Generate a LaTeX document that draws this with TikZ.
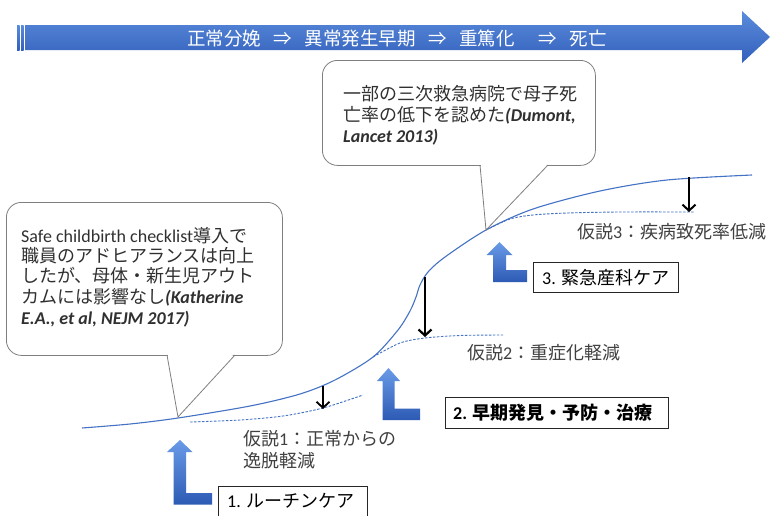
\documentclass[tikz,border=0pt]{standalone}
\usepackage{fontspec}
\setmainfont{Noto Sans CJK JP}
\newfontfamily\lat{Carlito}
\usetikzlibrary{arrows.meta}
\definecolor{curveblue}{HTML}{4472C4}
\definecolor{arrtop}{HTML}{5A8BDB}
\definecolor{arrbot}{HTML}{3360BC}
\definecolor{ltop}{HTML}{6A9BE8}
\definecolor{lbot}{HTML}{2D5AB4}
\definecolor{callgray}{HTML}{7F7F7F}
\definecolor{calltext}{HTML}{303030}
\definecolor{hyptext}{HTML}{404040}
\tikzset{
  curve/.style={draw=curveblue, line width=1.1pt},
  dcurve/.style={draw=curveblue, line width=0.9pt, dash pattern=on 2.5pt off 1.5pt},
  downarr/.style={line width=2pt, -{Straight Barb[length=6pt,width=13pt]}},
  callbox/.style={draw=callgray, fill=white, rounded corners=15pt, line width=0.8pt, inner sep=0pt},
  ptr/.style={draw=callgray, line width=0.8pt},
  labelbox/.style={draw=black!85, fill=white, line width=0.9pt, inner sep=0pt},
  upL/.style={top color=ltop, bottom color=lbot, draw=none},
  ctext/.style={anchor=base west, text=calltext, inner sep=0pt, font=\fontsize{18}{21}\selectfont},
  htext/.style={anchor=base west, text=hyptext, inner sep=0pt, font=\fontsize{18}{21}\selectfont},
  btext/.style={anchor=base west, text=black, inner sep=0pt, font=\fontsize{18}{21}\selectfont},
}
\newcommand{\cit}[1]{{\lat\bfseries\itshape #1}}
\begin{document}
\begin{tikzpicture}[x=1pt,y=-1pt]
\useasboundingbox (0,0) rectangle (777,515);
\fill[white] (0,0) rectangle (777,515);

% top process arrow
\shade[top color=arrtop, bottom color=arrbot] (25,25) -- (742,25) -- (742,11) -- (770,37) -- (742,63) -- (742,50) -- (25,50) -- cycle;
\shade[top color=arrtop, bottom color=arrbot] (17,25) rectangle (19.5,50);
\shade[top color=arrtop, bottom color=arrbot] (21,25) rectangle (23.5,50);
\node[text=white, inner sep=0pt, font=\fontsize{18.5}{20}\selectfont] (title) at (397,38)
  {正常分娩\hspace{12.5pt}⇒\hspace{12.5pt}異常発生早期\hspace{12.5pt}⇒\hspace{12.5pt}重篤化\hspace{24pt}⇒\hspace{12.5pt}死亡};

% curves
\draw[curve] plot[smooth, tension=0.5] coordinates {(82,428) (130,424) (178,418) (250,406) (300,394) (335,380) (373,357) (398,330) (410,311) (416,297) (420,285) (428,272) (445,257) (486,230) (533,209) (600,191) (667,180) (752,175)};
\draw[dcurve] plot[smooth, tension=0.5] coordinates {(190,422) (240,420) (283,416) (323,408) (363,395)};
\draw[dcurve] plot[smooth, tension=0.5] coordinates {(373,357) (400,343) (425,338) (460,335.5) (503,335)};
\draw[dcurve] plot[smooth, tension=0.5] coordinates {(486,230) (510,219) (533,215) (567,213) (620,212) (695,212)};

% down arrows
\coordinate (d1s) at (323,386); \coordinate (d1e) at (323,409);
\coordinate (d2s) at (425,277); \coordinate (d2e) at (425,337);
\coordinate (d3s) at (689,177); \coordinate (d3e) at (689,212);
\draw[downarr, line width=1.8pt] (d1s) -- (d1e);
\draw[downarr, line width=2.2pt] (d2s) -- (d2e);
\draw[downarr] (d3s) -- (d3e);

% callout left
\node[callbox, minimum width=276pt, minimum height=153pt, anchor=north west] (cb1) at (6,202) {};
\coordinate (p1) at (178,417);
\fill[white] (167.8,353.8) -- (p1) -- (234.2,353.8) -- cycle;
\draw[ptr] (167,355) -- (p1) -- (235,355);
\node[ctext] (a1) at (21,242) {{\lat Safe childbirth checklist}導入で};
\node[ctext] (a2) at (21,262) {職員のアドヒアランスは向上};
\node[ctext] (a3) at (21,282) {したが、母体・新生児アウト};
\node[ctext] (a4) at (21,303) {カムには影響なし\cit{(Katherine}};
\node[ctext] (a5) at (21,324) {\cit{E.A., et al, NEJM 2017)}};

% callout top
\node[callbox, minimum width=273pt, minimum height=105pt, anchor=north west] (cb2) at (322,60) {};
\coordinate (p2) at (486,230);
\fill[white] (480.8,164.8) -- (p2) -- (547.2,164.8) -- cycle;
\draw[ptr] (480,165) -- (p2) -- (548,165);
\node[ctext] (b1) at (343,100) {一部の三次救急病院で母子死};
\node[ctext] (b2) at (343,121) {亡率の低下を認めた\cit{(Dumont,}};
\node[ctext] (b3) at (343,142) {\cit{Lancet 2013)}};

% hypothesis labels
\node[htext] (h1a) at (243,445) {仮説{\lat 1}：正常からの};
\node[htext] (h1b) at (243,467) {逸脱軽減};
\node[htext] (h2) at (467,359) {仮説{\lat 2}：重症化軽減};
\node[htext] (h3) at (577,238) {仮説{\lat 3}：疾病致死率低減};

% bent up arrows
\shade[upL] (180,440) -- (192.5,452) -- (186,452) -- (186,493) -- (212,493) -- (212,504.5) -- (173.5,504.5) -- (173.5,452) -- (167,452) -- cycle;
\shade[upL] (388.5,368) -- (400,381) -- (394.5,381) -- (394.5,408.5) -- (420,408.5) -- (420,420) -- (382.5,420) -- (382.5,381) -- (377,381) -- cycle;
\shade[upL] (499.5,242) -- (512.5,255) -- (506,255) -- (506,270) -- (527,270) -- (527,282) -- (493,282) -- (493,255) -- (486.5,255) -- cycle;

% label boxes
\node[labelbox, minimum width=149pt, minimum height=36pt, anchor=north west] (lb1) at (218,486) {};
\node[btext] (lt1) at (227,507) {{\lat 1.} ルーチンケア};
\node[labelbox, minimum width=223pt, minimum height=31pt, anchor=north west] (lb2) at (445,397) {};
\node[btext, font=\fontsize{18}{21}\selectfont\bfseries] (lt2) at (453,419) {{\lat\bfseries 2.} 早期発見・予防・治療};
\node[labelbox, minimum width=145pt, minimum height=30pt, anchor=north west] (lb3) at (533,262) {};
\node[btext] (lt3) at (542,284) {{\lat 3.} 緊急産科ケア};
\end{tikzpicture}
\end{document}
